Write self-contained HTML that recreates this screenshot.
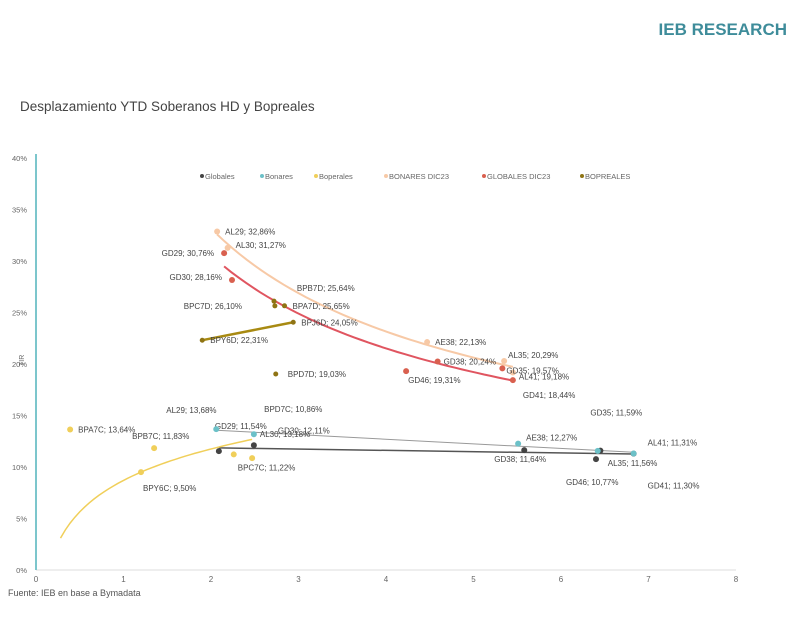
<!DOCTYPE html>
<html><head><meta charset="utf-8">
<style>
body{margin:0;background:#fff;width:800px;height:621px;overflow:hidden;font-family:"Liberation Sans",sans-serif;}
svg text{font-family:"Liberation Sans",sans-serif;}
</style></head>
<body>
<svg id="chart" width="800" height="621" xmlns="http://www.w3.org/2000/svg">
<text x="787" y="35" text-anchor="end" font-size="17" font-weight="bold" fill="#3e8c9a">IEB RESEARCH</text>
<text x="20" y="111" font-size="13.5" fill="#444">Desplazamiento YTD Soberanos HD y Bopreales</text>
<text x="8" y="596" font-size="9" fill="#555">Fuente: IEB en base a Bymadata</text>
<text x="0" y="0" font-size="7" fill="#666" transform="translate(24,366) rotate(-90)">TIR</text>
<g id="axes"></g><g id="marks"></g><g id="legend"></g>
</svg>
<script>
const xTicks=[0,1,2,3,4,5,6,7,8];
const yTicks=[0,5,10,15,20,25,30,35,40];
// Bonares DIC23
const bdNames=["AL29","AL30","AE38","AL35","AL41"];
const bdX=[2.07,2.19,4.47,5.35,5.45];
const bdY=[32.86,31.27,22.13,20.29,19.18];
// Globales DIC23
const gdNames=["GD29","GD30","GD38","GD46","GD35","GD41"];
const gdX=[2.15,2.24,4.59,4.23,5.33,5.45];
const gdY=[30.76,28.16,20.24,19.31,19.57,18.44];
// Bopreales DIC23
const bpdNames=["BPC7D","BPB7D","BPA7D","BPY6D","BPJ6D","BPD7D"];
const bpdX=[2.72,2.73,2.84,1.90,2.94,2.74];
const bpdY=[26.10,25.64,25.65,22.31,24.05,19.03];
// Globales
const gNames=["GD29","GD30","GD38","GD46","GD35","GD41"];
const gX=[2.09,2.49,5.58,6.40,6.45,6.83];
const gY=[11.54,12.11,11.64,10.77,11.59,11.30];
// Bonares
const bNames=["AL29","AL30","AE38","AL35","AL41"];
const bX=[2.06,2.49,5.51,6.42,6.83];
const bY=[13.68,13.18,12.27,11.56,11.31];
// Bopreales
const pNames=["BPA7C","BPB7C","BPY6C","BPC7C","BPD7C"];
const pX=[0.39,1.35,1.20,2.26,2.47];
const pY=[13.64,11.83,9.50,11.22,10.86];
// Bopreales log trend (y = a + b ln x)
const pTrendCoef=[8.7,4.4];
const pTrendRange=[0.28,2.47];

const NS="http://www.w3.org/2000/svg";
const X=v=>36+v*87.5, Y=v=>570-v*10.3;
function mk(tag,attrs,parent){const e=document.createElementNS(NS,tag);for(const k in attrs)e.setAttribute(k,attrs[k]);parent.appendChild(e);return e;}
const axes=document.getElementById('axes'),marks=document.getElementById('marks'),leg=document.getElementById('legend');
let el=mk('line',{x1:X(0),y1:Y(0),x2:X(8),y2:Y(0),stroke:'#ddd'},axes);


el=mk('line',{x1:X(0),y1:Y(0),x2:X(0),y2:Y(40)-4,stroke:'#7cc6cc','stroke-width':2},axes);


xTicks.forEach(t=>{const e=mk('text',{x:X(t),y:582,'font-size':8,fill:'#666','text-anchor':'middle'},axes);e.textContent=t;

});
yTicks.forEach(t=>{const e=mk('text',{x:27,y:Y(t)+3,'font-size':7.5,fill:'#666','text-anchor':'end'},axes);e.textContent=t+'%';

});

function trend(xs,ys,col,w,name){
  const n=xs.length;let sx=0,sy=0,sxx=0,sxy=0;
  xs.forEach((x,i)=>{sx+=x;sy+=ys[i];sxx+=x*x;sxy+=x*ys[i];});
  const b=(n*sxy-sx*sy)/(n*sxx-sx*sx),a=(sy-b*sx)/n;
  const x1=Math.min(...xs),x2=Math.max(...xs);
  const e=mk('line',{x1:X(x1),y1:Y(a+b*x1),x2:X(x2),y2:Y(a+b*x2),stroke:col,'stroke-width':w},marks);
  
  
}
function curveTrend(xs,ys,col,w,name,x0,x1){
  const n=xs.length;let sx=0,sy=0,sxx=0,sxy=0;
  xs.forEach((x,i)=>{const lx=Math.log(x),ly=Math.log(ys[i]);sx+=lx;sy+=ly;sxx+=lx*lx;sxy+=lx*ly;});
  const b=(n*sxy-sx*sy)/(n*sxx-sx*sx),a=Math.exp((sy-b*sx)/n);
  let d='';for(let i=0;i<=40;i++){const x=x0+(x1-x0)*i/40;d+=(i?'L':'M')+X(x).toFixed(1)+','+Y(a*Math.pow(x,b)).toFixed(1);}
  const e=mk('path',{d:d,stroke:col,'stroke-width':w,fill:'none'},marks);
  
  
}
curveTrend(bdX,bdY,'#f7c9a6',2,'bonares-dic23-trend',Math.min(...bdX),Math.max(...bdX));
curveTrend(gdX,gdY,'#e05560',2,'globales-dic23-trend',Math.min(...gdX),Math.max(...gdX));
trend([bpdX[3],bpdX[4]],[bpdY[3],bpdY[4]],'#a88a12',2.5,'bopreales-dic23-trend');
trend(gX,gY,'#555',1.5,'globales-trend');
trend(bX,bY,'#999',1,'bonares-trend');
(function(){let d='';const x0=pTrendRange[0],x1=pTrendRange[1];
for(let i=0;i<=40;i++){const x=x0+(x1-x0)*i/40;d+=(i?'L':'M')+X(x).toFixed(1)+','+Y(pTrendCoef[0]+pTrendCoef[1]*Math.log(x)).toFixed(1);}
const e=mk('path',{d:d,stroke:'#f0cf5a','stroke-width':1.5,fill:'none'},marks);

})();

function series(names,xs,ys,col,r,key,offs){
  names.forEach((nm,i)=>{
    const cx=X(xs[i]),cy=Y(ys[i]);
    const c=mk('circle',{cx:cx,cy:cy,r:r,fill:col},marks);
    
    
    const o=offs[i];
    const t=mk('text',{x:cx+o[0],y:cy+o[1],'font-size':8,fill:'#444','text-anchor':o[2]||'start'},marks);
    t.textContent=nm+'; '+ys[i].toFixed(2).replace('.',',')+'%';
    
    
  });
}
series(bdNames,bdX,bdY,'#f7c9a6',3,'bonares-dic23',[[8,3],[8,0],[8,3],[4,-3],[6,7]]);
series(gdNames,gdX,gdY,'#d9604f',3,'globales-dic23',[[-10,3,'end'],[-10,0,'end'],[6,3],[2,12],[4,5],[10,18]]);
series(bpdNames,bpdX,bpdY,'#8f7414',2.5,'bopreales-dic23',[[-32,8,'end'],[22,-15],[8,3],[8,3],[8,3],[12,3]]);
series(gNames,gX,gY,'#444',3,'globales',[[-4,-22],[24,-12],[-30,12],[-30,26],[-10,-35],[14,35]]);
series(bNames,bX,bY,'#6cc1c8',3,'bonares',[[-50,-16],[6,3],[8,-3],[10,15],[14,-8]]);
series(pNames,pX,pY,'#f0cf5a',3,'bopreales',[[8,3],[-22,-9],[2,19],[4,16],[12,-46]]);

const legItems=[["Globales","#444"],["Bonares","#6cc1c8"],["Boperales","#f0cf5a"],["BONARES DIC23","#f7c9a6"],["GLOBALES DIC23","#d9604f"],["BOPREALES","#8f7414"]];
const legX=[202,262,316,386,484,582];
legItems.forEach((it,i)=>{
  const c=mk('circle',{cx:legX[i],cy:176,r:2,fill:it[1]},leg);
  
  
  const t=mk('text',{x:legX[i]+3,y:179,'font-size':7.5,fill:'#666'},leg);t.textContent=it[0];
  
  
});
</script>
</body></html>
